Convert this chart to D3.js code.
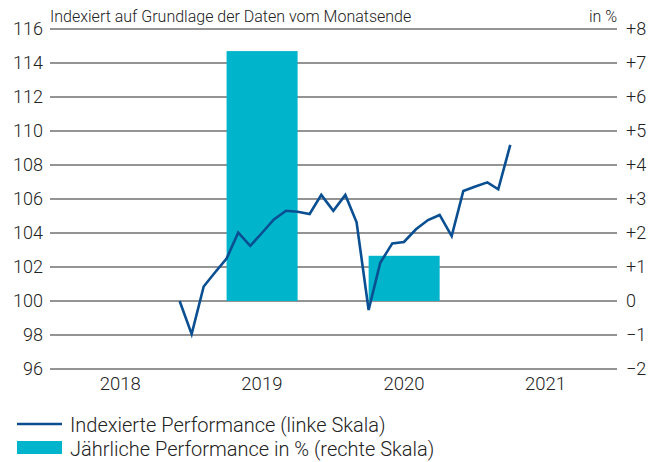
<!DOCTYPE html>
<html>
<head>
<meta charset="utf-8">
<script src="https://cdn.jsdelivr.net/npm/d3@7"></script>
<style>
  body { margin: 0; background: #fff; }
  svg text { font-family: Roboto, "Liberation Sans", sans-serif; font-weight: 300; fill: #222; }
</style>
</head>
<body>
<div id="root"></div>
<script>
// Monatsende-Werte (indexiert) und jährliche Performance
const months = [
  "2018-12", "2019-01", "2019-02", "2019-03", "2019-04", "2019-05", "2019-06",
  "2019-07", "2019-08", "2019-09", "2019-10", "2019-11", "2019-12",
  "2020-01", "2020-02", "2020-03", "2020-04", "2020-05", "2020-06",
  "2020-07", "2020-08", "2020-09", "2020-10", "2020-11", "2020-12",
  "2021-01", "2021-02", "2021-03", "2021-04"
];
const indexValues = [
  100.0, 98.05, 100.85, 101.65, 102.5, 104.02, 103.24,
  104.0, 104.8, 105.31, 105.25, 105.12, 106.24,
  105.3, 106.24, 104.63, 99.47, 102.25, 103.39,
  103.47, 104.22, 104.76, 105.06, 103.82, 106.47,
  106.74, 106.98, 106.57, 109.18
];
const barYears = [2019, 2020];
const barValues = [7.35, 1.33];
const yearLabels = [2018, 2019, 2020, 2021];
const leftTicks = [96, 98, 100, 102, 104, 106, 108, 110, 112, 114, 116];
const rightTicks = [-2, -1, 0, 1, 2, 3, 4, 5, 6, 7, 8];

const title = "Indexiert auf Grundlage der Daten vom Monatsende";
const unitLabel = "in %";
const legendItems = [
  "Indexierte Performance (linke Skala)",
  "Jährliche Performance in % (rechte Skala)"
];

const width = 663;
const height = 462;
const margin = { top: 29, right: 46, bottom: 93, left: 50 };
const innerW = width - margin.left - margin.right;
const innerH = height - margin.top - margin.bottom;

const lineColor = "#0a4f91";
const barColor = "#00b4cc";

const svg = d3.select("#root")
  .append("svg")
    .attr("width", width)
    .attr("height", height);

const g = svg.append("g")
  .attr("transform", `translate(${margin.left},${margin.top})`);

const parse = d3.timeParse("%Y-%m");

const xScale = d3.scaleTime()
  .domain([new Date(2018, 0, 1), new Date(2022, 0, 1)])
  .range([0, innerW]);

const yLeft = d3.scaleLinear()
  .domain([96, 116])
  .range([innerH, 0]);

const yRight = d3.scaleLinear()
  .domain([-2, 8])
  .range([innerH, 0]);

// Gitterlinien
g.append("g")
  .selectAll("line")
  .data(leftTicks)
  .join("line")
    .attr("x1", 0)
    .attr("x2", innerW)
    .attr("y1", d => yLeft(d))
    .attr("y2", d => yLeft(d))
    .attr("stroke", "#2a2a2a")
    .attr("stroke-width", 1.2);

// Balken (jährliche Performance)
g.append("g")
  .selectAll("rect")
  .data(barYears.map((y, i) => ({ year: y, value: barValues[i] })))
  .join("rect")
    .attr("x", d => xScale(new Date(d.year, 3, 1)))
    .attr("width", d => xScale(new Date(d.year, 9, 1)) - xScale(new Date(d.year, 3, 1)))
    .attr("y", d => yRight(d.value))
    .attr("height", d => yRight(0) - yRight(d.value))
    .attr("fill", barColor);

// Linie (indexierte Performance)
const lineCreator = d3.line()
  .x((d, i) => xScale(parse(months[i])))
  .y(d => yLeft(d));

g.append("path")
  .datum(indexValues)
    .attr("d", lineCreator)
    .attr("fill", "none")
    .attr("stroke", lineColor)
    .attr("stroke-width", 2.6)
    .attr("stroke-linejoin", "miter");

// Linke Achse
const leftAxis = g.append("g")
  .call(d3.axisLeft(yLeft).tickValues(leftTicks).tickSize(0).tickPadding(7));
leftAxis.select(".domain").remove();
leftAxis.selectAll("text")
  .attr("font-size", 18)
  .style("font-family", "Roboto, 'Liberation Sans', sans-serif");

// Rechte Achse
const fmtRight = d => d > 0 ? "+" + d : d < 0 ? "\u2212" + Math.abs(d) : "0";
const rightAxis = g.append("g")
  .attr("transform", `translate(${innerW},0)`)
  .call(d3.axisRight(yRight).tickValues(rightTicks).tickSize(0).tickPadding(9).tickFormat(fmtRight));
rightAxis.select(".domain").remove();
rightAxis.selectAll("text")
  .attr("font-size", 18)
  .style("font-family", "Roboto, 'Liberation Sans', sans-serif");

// Jahresbeschriftungen
g.append("g")
  .selectAll("text")
  .data(yearLabels)
  .join("text")
    .attr("x", d => xScale(new Date(d, 6, 1)))
    .attr("y", innerH + 21)
    .attr("text-anchor", "middle")
    .attr("font-size", 18.5)
    .text(d => d);

// Titel und Einheit
svg.append("text")
  .attr("x", margin.left)
  .attr("y", 22)
  .attr("font-size", 16)
  .text(title);

svg.append("text")
  .attr("x", margin.left + innerW)
  .attr("y", 22)
  .attr("text-anchor", "end")
  .attr("font-size", 16)
  .text(unitLabel);

// Legende
const legend = svg.append("g").attr("transform", "translate(17,0)");
legend.append("line")
  .attr("x1", 0).attr("x2", 45)
  .attr("y1", 424).attr("y2", 424)
  .attr("stroke", lineColor)
  .attr("stroke-width", 2.6);
legend.append("rect")
  .attr("x", 0).attr("y", 441)
  .attr("width", 45).attr("height", 13)
  .attr("fill", barColor);
legend.selectAll("text.item")
  .data(legendItems)
  .join("text")
    .attr("class", "item")
    .attr("x", 53)
    .attr("y", (d, i) => 432 + i * 24)
    .attr("font-size", 20)
    .text(d => d);
</script>
</body>
</html>
